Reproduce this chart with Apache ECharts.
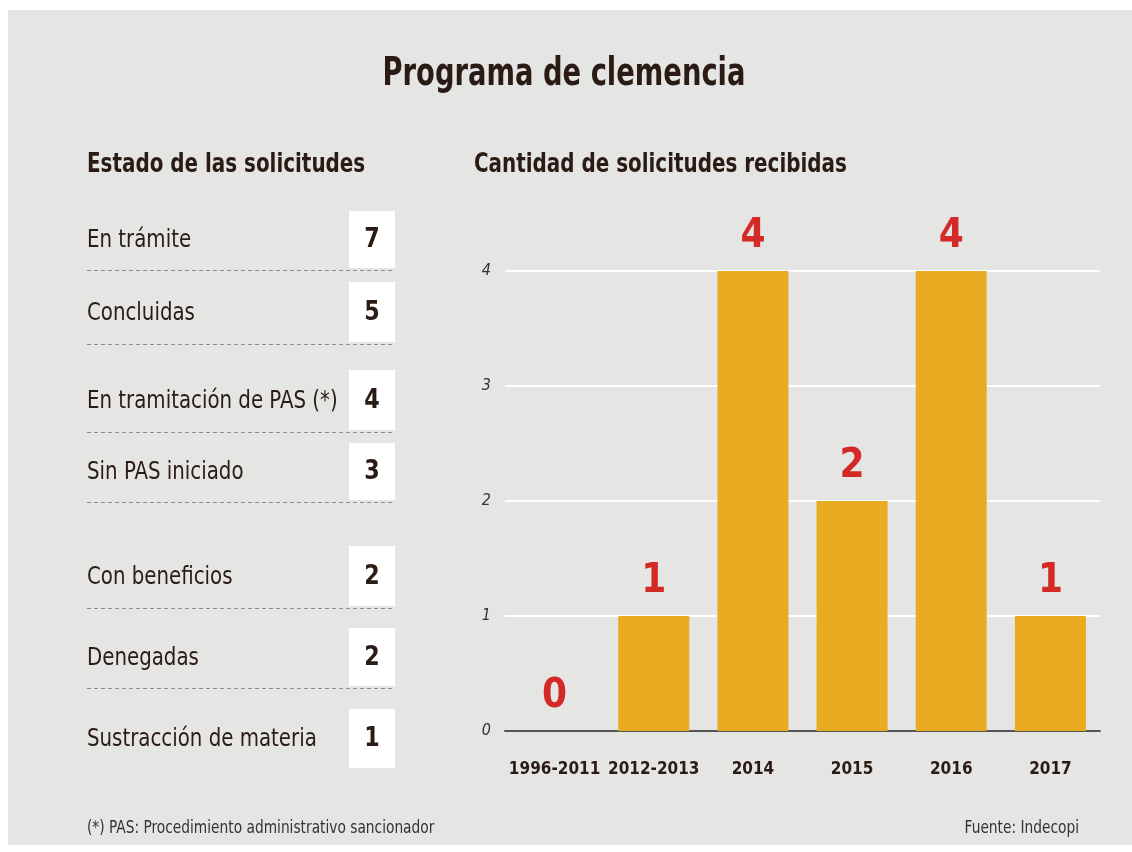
<!DOCTYPE html>
<html>
<head>
<meta charset="utf-8">
<script src="https://cdn.jsdelivr.net/npm/echarts@6/dist/echarts.min.js"></script>
<style>
  html, body { margin: 0; padding: 0; background: #fff; }
  #main { width: 1132px; height: 852px; }
</style>
</head>
<body>
<div id="main"></div>
<script>
// datos
var categories = ['1996-2011', '2012-2013', '2014', '2015', '2016', '2017'];
var solicitudes = [0, 1, 4, 2, 4, 1];
var yTicks = [0, 1, 2, 3, 4];

var estados = ['En trámite', 'Concluidas', 'En tramitación de PAS (*)', 'Sin PAS iniciado',
  'Con beneficios', 'Denegadas', 'Sustracción de materia'];
var estadoValores = [7, 5, 4, 3, 2, 2, 1];

var FONT = "'DejaVu Sans Condensed', 'Roboto', sans-serif";
var DARK = '#2a1b14';

var chart = echarts.init(document.getElementById('main'), null, { renderer: 'canvas' });

// texto "estrecho": se comprime horizontalmente
function narrowText(x, y, text, font, sx, opts) {
  opts = opts || {};
  return {
    type: 'text', x: x, y: y, scaleX: sx,
    style: {
      text: text, font: font, fill: opts.fill || DARK,
      textAlign: opts.align || 'left', textVerticalAlign: 'middle'
    }
  };
}

// filas de la tabla (posiciones de maquetacion)
var rowTop = [211, 282, 370, 443, 546, 628, 709];
var rowBottom = [268, 342, 430, 500, 606, 686, 768];
var graphics = [];

// panel gris
graphics.push({
  type: 'rect', z: -10,
  shape: { x: 8, y: 10, width: 1124, height: 835 },
  style: { fill: '#e5e5e3' }
});

graphics.push(narrowText(564, 75, 'Programa de clemencia', 'bold 39px ' + FONT, 0.78, { align: 'center' }));
graphics.push(narrowText(87, 165, 'Estado de las solicitudes', 'bold 27px ' + FONT, 0.82));
graphics.push(narrowText(474, 165, 'Cantidad de solicitudes recibidas', 'bold 27px ' + FONT, 0.82));

estados.forEach(function (name, i) {
  var cy = (rowTop[i] + rowBottom[i]) / 2;
  graphics.push({
    type: 'rect',
    shape: { x: 349, y: rowTop[i], width: 46, height: rowBottom[i] - rowTop[i] },
    style: { fill: '#ffffff' }
  });
  graphics.push(narrowText(87, cy + 1, name, '25px ' + FONT, 0.88));
  graphics.push(narrowText(372, cy + 1, String(estadoValores[i]), 'bold 26px ' + FONT, 0.95, { align: 'center' }));
  if (i < estados.length - 1) {
    graphics.push({
      type: 'line',
      shape: { x1: 87, y1: rowBottom[i] + 2.5, x2: 395, y2: rowBottom[i] + 2.5 },
      style: { stroke: '#8c8c8c', lineWidth: 1, lineDash: [4, 3] }
    });
  }
});

graphics.push(narrowText(87, 829, '(*) PAS: Procedimiento administrativo sancionador', '17px ' + FONT, 0.9, { fill: '#333' }));
graphics.push(narrowText(1079, 829, 'Fuente: Indecopi', '17px ' + FONT, 0.9, { fill: '#333', align: 'right' }));

var option = {
  backgroundColor: '#ffffff',
  grid: { left: 505, top: 271, width: 595, height: 460, containLabel: false },
  xAxis: {
    type: 'category',
    data: categories,
    axisLine: { lineStyle: { color: '#555', width: 2 } },
    axisTick: { show: false },
    axisLabel: { interval: 0, fontFamily: FONT, fontWeight: 'bold', fontSize: 17, color: DARK, margin: 30 }
  },
  yAxis: {
    type: 'value',
    min: yTicks[0],
    max: yTicks[yTicks.length - 1],
    interval: 1,
    axisLine: { show: false },
    axisTick: { show: false },
    axisLabel: { fontFamily: FONT, fontStyle: 'italic', fontSize: 16, color: '#333', margin: 14 },
    splitLine: { lineStyle: { color: '#ffffff', width: 2 } }
  },
  series: [{
    type: 'bar',
    data: solicitudes,
    barWidth: 71,
    itemStyle: { color: '#e8ab22' },
    label: {
      show: true,
      position: 'top',
      distance: 14,
      fontFamily: FONT,
      fontWeight: 'bold',
      fontSize: 40,
      color: '#d42a27'
    }
  }],
  graphic: graphics
};

chart.setOption(option);
</script>
</body>
</html>
